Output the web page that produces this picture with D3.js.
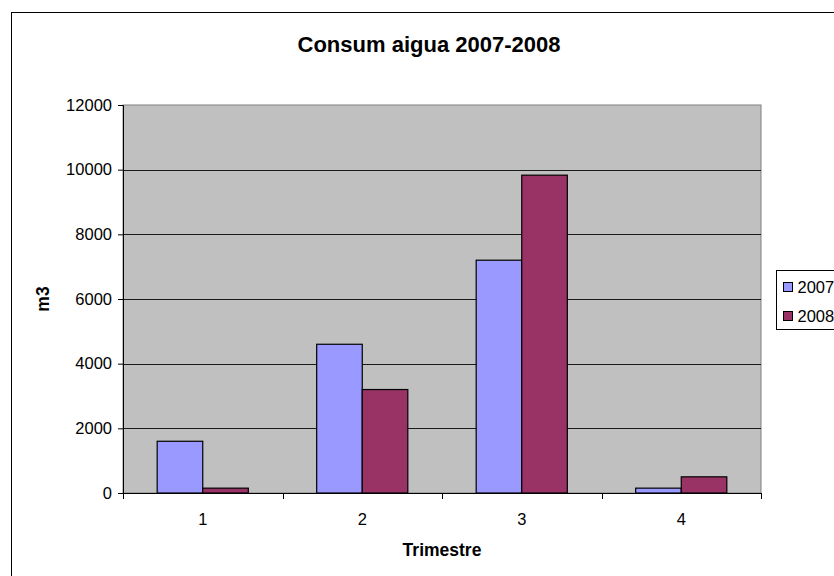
<!DOCTYPE html>
<html>
<head>
<meta charset="utf-8">
<script src="https://cdn.jsdelivr.net/npm/d3@7"></script>
<style>
  body { margin: 0; background: #fff; }
  svg { display: block; font-family: 'Liberation Sans', Arial, sans-serif; }
</style>
</head>
<body>
<div id="chart"></div>
<script>
const trimestres = ['1', '2', '3', '4']
const series = ['2007', '2008']
const values2007 = [1600, 4600, 7200, 150]
const values2008 = [150, 3200, 9830, 500]
const yTicks = [0, 2000, 4000, 6000, 8000, 10000, 12000]
const colors = ['#9999FF', '#993366']

const w = 834
const h = 576
const plot = { left: 123, right: 761, top: 105, bottom: 493 }

const svg = d3.select('#chart')
    .append('svg')
    .attr('width', w)
    .attr('height', h)

// outer chart border
svg.append('rect')
    .attr('x', 11.5).attr('y', 12.5)
    .attr('width', 1000).attr('height', 1000)
    .attr('fill', '#fff')
    .attr('stroke', '#000')

const xScale = d3.scaleBand()
    .domain(trimestres)
    .range([plot.left, plot.right])

const xInner = d3.scaleBand()
    .domain(series)
    .range([0, xScale.bandwidth()])
    .paddingOuter(0.75)

const yScale = d3.scaleLinear()
    .domain([0, 12000])
    .range([plot.bottom, plot.top])

svg.append('rect')
    .attr('x', plot.left).attr('y', plot.top)
    .attr('width', plot.right - plot.left)
    .attr('height', plot.bottom - plot.top)
    .attr('fill', '#C0C0C0')
    .attr('stroke', '#808080')

// gridlines
svg.append('g')
    .selectAll('line')
    .data(yTicks.filter(d => d > 0 && d < 12000))
    .enter()
    .append('line')
    .attr('x1', plot.left).attr('x2', plot.right)
    .attr('y1', d => Math.round(yScale(d)) + 0.5)
    .attr('y2', d => Math.round(yScale(d)) + 0.5)
    .attr('stroke', '#1a1a1a')

const data = trimestres.map((t, i) => ({ t: t, vals: [values2007[i], values2008[i]] }))

const groups = svg.selectAll('.grp')
    .data(data)
    .enter()
    .append('g')
    .attr('transform', d => 'translate(' + xScale(d.t) + ',0)')

groups.selectAll('rect')
    .data(d => d.vals.map((v, j) => ({ s: series[j], v: v, j: j })))
    .enter()
    .append('rect')
    .attr('x', d => xInner(d.s))
    .attr('y', d => yScale(d.v))
    .attr('width', xInner.bandwidth())
    .attr('height', d => plot.bottom - yScale(d.v))
    .attr('fill', d => colors[d.j])
    .attr('stroke', '#000')
    .attr('stroke-width', 1.2)

const yAxis = d3.axisLeft(yScale)
    .tickValues(yTicks)
    .tickSize(5)
    .tickPadding(6)
    .tickFormat(d3.format('d'))

const yg = svg.append('g')
    .attr('transform', 'translate(' + plot.left + ',0)')
    .call(yAxis)
yg.select('.domain').attr('stroke', '#000')
yg.selectAll('text').attr('font-size', 16.5).attr('fill', '#000')
    .attr('font-family', 'Liberation Sans, Arial, sans-serif')

// x axis line and ticks at category boundaries
svg.append('line')
    .attr('x1', plot.left).attr('x2', plot.right)
    .attr('y1', plot.bottom + 0.5).attr('y2', plot.bottom + 0.5)
    .attr('stroke', '#000')
const bounds = trimestres.map(t => xScale(t)).concat([plot.right])
svg.append('g')
    .selectAll('line')
    .data(bounds)
    .enter()
    .append('line')
    .attr('x1', d => Math.round(d) + 0.5).attr('x2', d => Math.round(d) + 0.5)
    .attr('y1', plot.bottom).attr('y2', plot.bottom + 6)
    .attr('stroke', '#000')
svg.append('g')
    .selectAll('text')
    .data(trimestres)
    .enter()
    .append('text')
    .attr('x', d => xScale(d) + xScale.bandwidth() / 2)
    .attr('y', 525)
    .attr('text-anchor', 'middle')
    .attr('font-size', 16.5)
    .text(d => d)

svg.append('text')
    .attr('x', 429)
    .attr('y', 52)
    .attr('text-anchor', 'middle')
    .attr('font-size', 22)
    .attr('font-weight', 'bold')
    .text('Consum aigua 2007-2008')

svg.append('text')
    .attr('x', (plot.left + plot.right) / 2)
    .attr('y', 556)
    .attr('text-anchor', 'middle')
    .attr('font-size', 17.5)
    .attr('font-weight', 'bold')
    .text('Trimestre')

svg.append('text')
    .attr('transform', 'translate(49,299) rotate(-90)')
    .attr('text-anchor', 'middle')
    .attr('font-size', 17.5)
    .attr('font-weight', 'bold')
    .text('m3')

// legend
const legend = svg.append('g').attr('transform', 'translate(776.5,270.5)')
legend.append('rect')
    .attr('width', 80).attr('height', 59)
    .attr('fill', '#fff').attr('stroke', '#000')
const items = legend.selectAll('.item')
    .data(series)
    .enter()
    .append('g')
    .attr('transform', (d, i) => 'translate(7,' + (12 + i * 29) + ')')
items.append('rect')
    .attr('width', 9).attr('height', 9)
    .attr('fill', (d, i) => colors[i])
    .attr('stroke', '#000')
items.append('text')
    .attr('x', 14).attr('y', 10)
    .attr('font-size', 16.5)
    .text(d => d)
</script>
</body>
</html>
